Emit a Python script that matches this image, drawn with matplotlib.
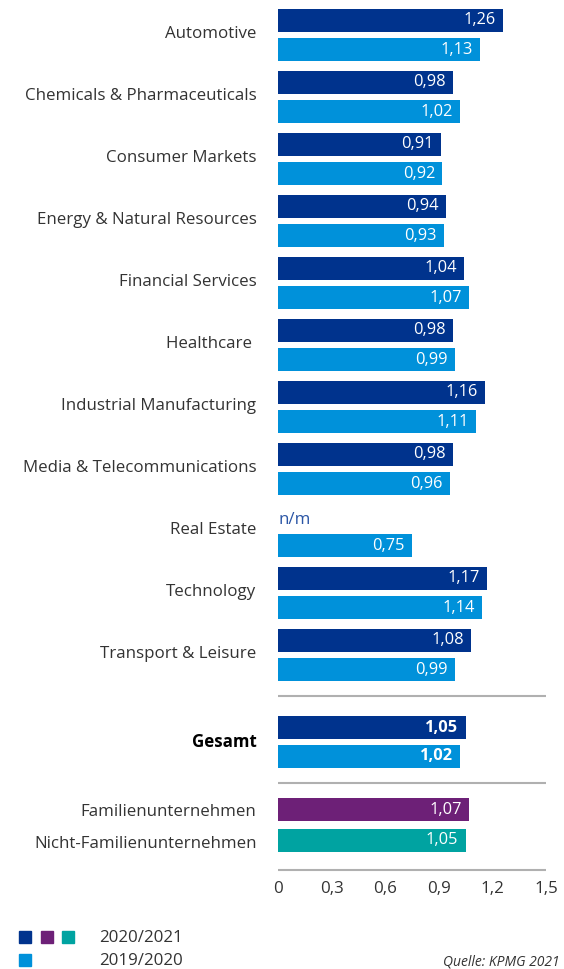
import matplotlib
matplotlib.use("Agg")
import matplotlib.pyplot as plt
from matplotlib.patches import Rectangle

plt.rcParams['font.family'] = ['Open Sans', 'DejaVu Sans']

categories = ["Automotive", "Chemicals & Pharmaceuticals", "Consumer Markets",
              "Energy & Natural Resources", "Financial Services", "Healthcare ",
              "Industrial Manufacturing", "Media & Telecommunications", "Real Estate",
              "Technology", "Transport & Leisure"]
values_2021 = [1.26, 0.98, 0.91, 0.94, 1.04, 0.98, 1.16, 0.98, None, 1.17, 1.08]
values_2020 = [1.13, 1.02, 0.92, 0.93, 1.07, 0.99, 1.11, 0.96, 0.75, 1.14, 0.99]
total_label = "Gesamt"
total_2021 = 1.05
total_2020 = 1.02
family_labels = ["Familienunternehmen", "Nicht-Familienunternehmen"]
family_values = [1.07, 1.05]
xticks = [0, 0.3, 0.6, 0.9, 1.2, 1.5]
legend_labels = ["2020/2021", "2019/2020"]
source = "Quelle: KPMG 2021"

DARK = "#00338D"
LIGHT = "#0091DA"
PURPLE = "#6D2077"
TEAL = "#00A3A1"
GREY = "#b0b0b0"
TXT = "#333333"

W, H = 564, 969
fig = plt.figure(figsize=(W / 100, H / 100), dpi=100)
ax_left, ax_right = 278, 546
ax_top, ax_bot = 0, 870
ax = fig.add_axes([ax_left / W, 1 - ax_bot / H, (ax_right - ax_left) / W, (ax_bot - ax_top) / H])
ax.set_xlim(0, 1.5)
ax.set_ylim(ax_bot, ax_top)
ax.axis('off')

bh = 23
pitch = 62
fs = 12.2
vfs = 11.8
def fmt(v):
    return f"{v:.2f}".replace(".", ",")

def valtext(v, yc, bold=False):
    ax.text(v - 0.04, yc, fmt(v), ha='right', va='center', color='white',
            fontsize=vfs, fontweight='bold' if bold else 'normal')

for i, cat in enumerate(categories):
    y0 = 9 + i * pitch
    y1 = y0 + 29
    ax.text(-0.12, y0 + 25, cat, ha='right', va='center', fontsize=fs, color=TXT)
    v = values_2021[i]
    if v is None:
        ax.text(0, y0 + 15, "n/m", ha='left', va='center', fontsize=fs, color="#2a55a5")
    else:
        ax.barh(y0 + bh / 2, v, height=bh, color=DARK)
        valtext(v, y0 + bh / 2)
    v2 = values_2020[i]
    ax.barh(y1 + bh / 2, v2, height=bh, color=LIGHT)
    valtext(v2, y1 + bh / 2)

# separators
for ys in [696, 783, 870]:
    ax.plot([0, 1.5], [ys, ys], color=GREY, lw=1.5, clip_on=False, solid_capstyle='butt')

# total
yg = 716
ax.barh(yg + bh / 2, total_2021, height=bh, color=DARK)
valtext(total_2021, yg + bh / 2, bold=True)
ax.barh(yg + 29 + bh / 2, total_2020, height=bh, color=LIGHT)
valtext(total_2020, yg + 29 + bh / 2, bold=True)
ax.text(-0.12, yg + 26, total_label, ha='right', va='center', fontsize=fs,
        fontweight='bold', color='black')

# family
yf = 798
for j, (lab, v, c) in enumerate(zip(family_labels, family_values, [PURPLE, TEAL])):
    yc = yf + j * 31 + bh / 2
    ax.barh(yc, v, height=bh, color=c)
    valtext(v, yc)
    ax.text(-0.12, yc + 3, lab, ha='right', va='center', fontsize=fs, color=TXT)

# ticks
for t in xticks:
    lab = "0" if t == 0 else f"{t:.1f}".replace(".", ",")
    ax.text(t, 889, lab, ha='center', va='center', fontsize=fs, color=TXT, clip_on=False)

# legend
def sq(x, y, c):
    fig.patches.append(Rectangle((x / W, 1 - (y + 13) / H), 12 / W, 12 / H,
                                 transform=fig.transFigure, color=c))
sq(19, 930, DARK)
sq(41, 930, PURPLE)
sq(62, 930, TEAL)
sq(19, 953, LIGHT)
fig.text(99 / W, 1 - 938 / H, legend_labels[0], ha='left', va='center', fontsize=fs, color=TXT)
fig.text(99 / W, 1 - 961 / H, legend_labels[1], ha='left', va='center', fontsize=fs, color=TXT)
fig.text(560 / W, 1 - 962 / H, source, ha='right', va='center', fontsize=10,
         style='italic', color=TXT)

fig.savefig("out.png", dpi=100)
